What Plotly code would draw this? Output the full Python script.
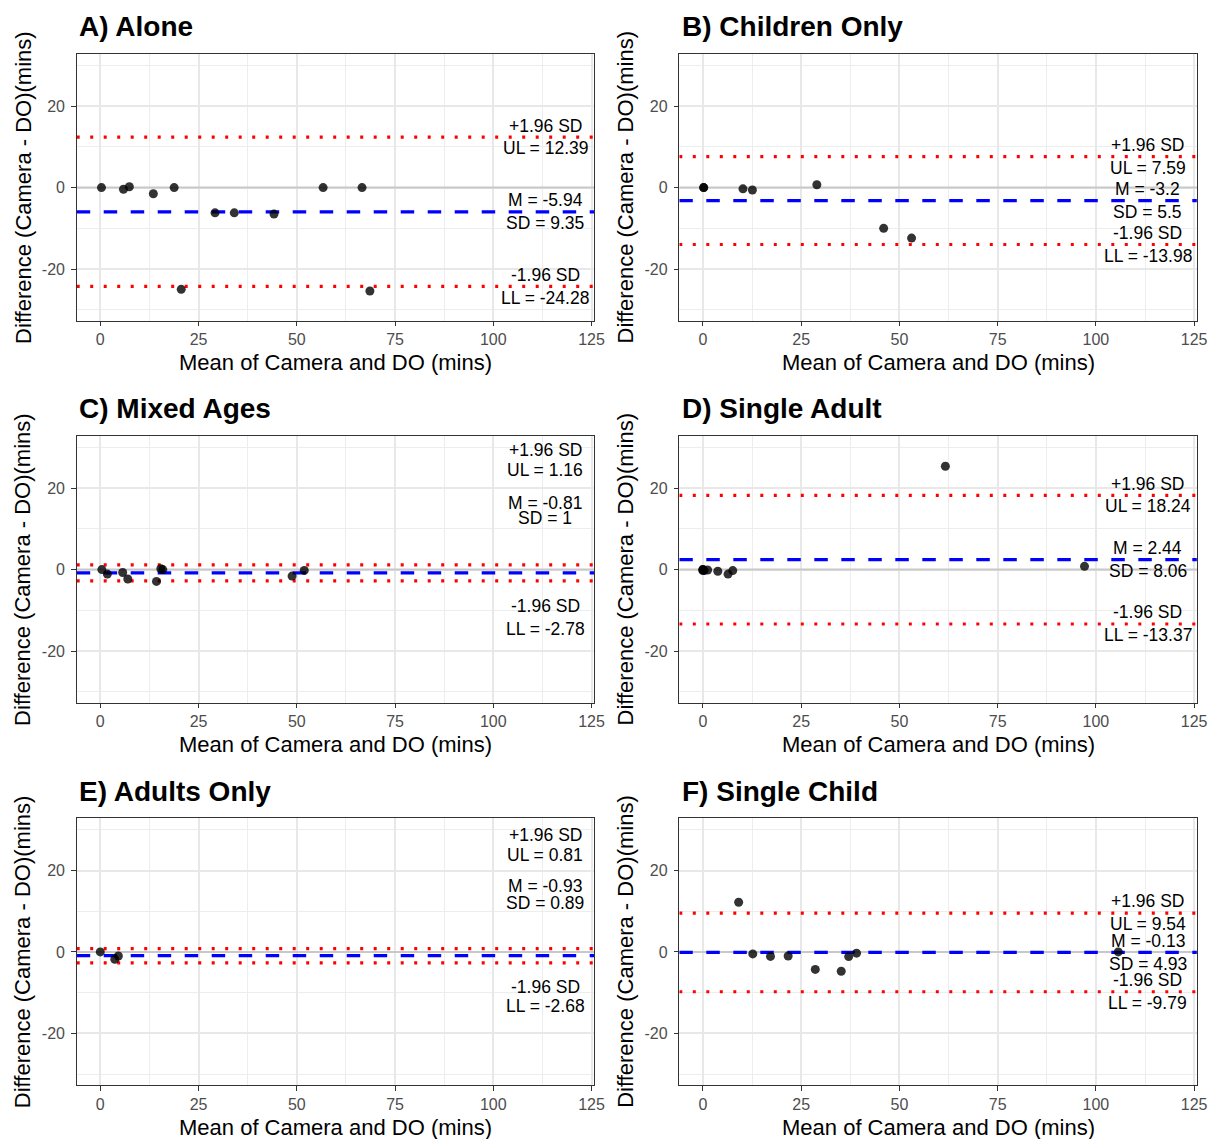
import plotly.graph_objects as go

# ---------------- data ----------------
PANEL_TITLES = ["A) Alone", "B) Children Only", "C) Mixed Ages",
                "D) Single Adult", "E) Adults Only", "F) Single Child"]

A_MEAN = [0.3, 5.9, 7.4, 13.5, 18.8, 20.6, 29.2, 34.1, 44.2, 56.7, 66.6, 68.6]
A_DIFF = [0.0, -0.4, 0.2, -1.5, 0.0, -25.0, -6.2, -6.2, -6.5, 0.0, 0.0, -25.4]
B_MEAN = [0.2, 0.2, 10.2, 12.6, 29.0, 46.0, 53.1]
B_DIFF = [0.0, 0.0, -0.3, -0.6, 0.7, -10.0, -12.4]
C_MEAN = [0.4, 1.8, 5.7, 7.0, 14.3, 15.4, 15.9, 48.8, 51.9]
C_DIFF = [0.0, -1.1, -0.7, -2.3, -2.9, 0.2, 0.0, -1.6, -0.2]
D_MEAN = [0.0, 0.0, 0.0, 0.3, 1.2, 3.8, 6.4, 7.6, 61.7, 97.1]
D_DIFF = [0.0, 0.0, -0.25, -0.25, -0.1, -0.4, -1.1, -0.25, 25.4, 0.8]
E_MEAN = [0.0, 3.7, 4.6]
E_DIFF = [0.0, -1.8, -1.0]
F_MEAN = [9.1, 12.7, 17.2, 21.7, 28.6, 35.2, 37.1, 39.1, 105.7]
F_DIFF = [12.2, -0.5, -1.1, -1.0, -4.3, -4.75, -1.15, -0.3, 0.0]

MEANS = [A_MEAN, B_MEAN, C_MEAN, D_MEAN, E_MEAN, F_MEAN]
DIFFS = [A_DIFF, B_DIFF, C_DIFF, D_DIFF, E_DIFF, F_DIFF]

MEAN_DIFF = [-5.94, -3.2, -0.81, 2.44, -0.93, -0.13]
SD_DIFF = [9.35, 5.5, 1, 8.06, 0.89, 4.93]
UPPER_LIM = [12.39, 7.59, 1.16, 18.24, 0.81, 9.54]
LOWER_LIM = [-24.28, -13.98, -2.78, -13.37, -2.68, -9.79]

X_TICKS = [0, 25, 50, 75, 100, 125]
X_TICK_TEXT = ["0", "25", "50", "75", "100", "125"]
X_MINOR = [12.5, 37.5, 62.5, 87.5, 112.5]
Y_TICKS = [-20, 0, 20]
Y_TICK_TEXT = ["-20", "0", "20"]
Y_MINOR = [-30, -10, 10, 30]

X_TITLE = "Mean of Camera and DO (mins)"
Y_TITLE = "Difference (Camera - DO)(mins)"

# ---------------- layout constants ----------------
W, H = 1209, 1139
X_RANGE = [-6.0, 125.7]
Y_RANGE = [-32.7, 32.9]
COL_PX = [(76.7, 594.3), (679.3, 1196.9)]
ROW_PX = [(53.7, 320.7), (435.7, 702.7), (818.0, 1085.0)]
LABEL_X = 113.2
# label y-positions for panels where labels are offset from their lines
LABEL_OVERRIDE = {2: [29.3, 24.4, 16.3, 12.7, -8.9, -14.7],
                  4: [28.8, 23.9, 16.2, 11.9, -8.5, -13.4]}
FONT = "Liberation Sans, Arial, sans-serif"

fig = go.Figure()
annotations = []

for i in range(6):
    r, c = divmod(i, 2)
    sfx = "" if i == 0 else str(i + 1)
    x0, x1 = COL_PX[c]
    top, bot = ROW_PX[r]
    xd = [x0 / W, x1 / W]
    yd = [1 - bot / H, 1 - top / H]
    axis_common = dict(
        showgrid=True, gridcolor="#E8E8E8", gridwidth=1.5,
        ticks="outside", ticklen=4.5, tickwidth=1.4, tickcolor="#333333",
        showline=True, linecolor="#333333", linewidth=1.1, mirror=True,
        tickfont=dict(family=FONT, size=16, color="#4D4D4D"),
        fixedrange=True, automargin=False,
    )
    fig.update_layout({
        f"xaxis{sfx}": dict(domain=xd, anchor=f"y{sfx}", range=X_RANGE,
                            tickmode="array", tickvals=X_TICKS, ticktext=X_TICK_TEXT,
                            zeroline=False, ticklabelstandoff=0,
                            minor=dict(tickvals=X_MINOR, showgrid=True,
                                       gridcolor="#EDEDED", gridwidth=1, ticks=""),
                            **axis_common),
        f"yaxis{sfx}": dict(domain=yd, anchor=f"x{sfx}", range=Y_RANGE,
                            tickmode="array", tickvals=Y_TICKS, ticktext=Y_TICK_TEXT,
                            zeroline=False, ticklabelstandoff=3,
                            minor=dict(tickvals=Y_MINOR, showgrid=True,
                                       gridcolor="#EDEDED", gridwidth=1, ticks=""),
                            **axis_common),
    })

    xa, ya = f"x{sfx}", f"y{sfx}"
    # reference line at zero
    fig.add_trace(go.Scatter(x=X_RANGE, y=[0, 0], mode="lines", xaxis=xa, yaxis=ya,
                             line=dict(color="#C8C8C8", width=2),
                             showlegend=False, hoverinfo="skip"))
    for val, col, dash in [(UPPER_LIM[i], "#FF0000", "3px,10.5px"),
                           (LOWER_LIM[i], "#FF0000", "3px,10.5px"),
                           (MEAN_DIFF[i], "#0000FF", "13.5px,13.5px")]:
        fig.add_trace(go.Scatter(x=X_RANGE, y=[val, val], mode="lines",
                                 xaxis=xa, yaxis=ya,
                                 line=dict(color=col, width=3.2, dash=dash),
                                 showlegend=False, hoverinfo="skip"))

    fig.add_trace(go.Scatter(
        x=MEANS[i], y=DIFFS[i], mode="markers", xaxis=xa, yaxis=ya,
        marker=dict(size=9, color="black", opacity=0.8, line=dict(width=0)),
        showlegend=False, hoverinfo="x+y"))

    texts = ["+1.96 SD", f"UL = {UPPER_LIM[i]:g}", f"M = {MEAN_DIFF[i]:g}",
             f"SD = {SD_DIFF[i]:g}", "-1.96 SD", f"LL = {LOWER_LIM[i]:g}"]
    if i in LABEL_OVERRIDE:
        ys = LABEL_OVERRIDE[i]
    else:
        ys = [UPPER_LIM[i] + 2.85, UPPER_LIM[i] - 2.7, MEAN_DIFF[i] + 2.9,
              MEAN_DIFF[i] - 2.8, LOWER_LIM[i] + 2.85, LOWER_LIM[i] - 2.75]
    for t, yv in zip(texts, ys):
        annotations.append(dict(text=t, x=LABEL_X, y=yv, xref=xa, yref=ya,
                                xanchor="center", yanchor="middle", showarrow=False,
                                font=dict(family=FONT, size=17.5, color="black")))

    # panel title
    annotations.append(dict(text=f"<b>{PANEL_TITLES[i]}</b>", x=(x0 + 0.5) / W,
                            y=1 - (top - 27) / H, xref="paper", yref="paper",
                            xanchor="left", yanchor="middle", showarrow=False,
                            font=dict(family=FONT, size=28, color="black")))
    # x-axis title
    annotations.append(dict(text=X_TITLE, x=(x0 + x1) / 2 / W, y=1 - (bot + 42) / H,
                            xref="paper", yref="paper", xanchor="center",
                            yanchor="middle", showarrow=False,
                            font=dict(family=FONT, size=22, color="black")))
    # y-axis title
    annotations.append(dict(text=Y_TITLE, x=(x0 - 54) / W, y=1 - (top + bot) / 2 / H,
                            xref="paper", yref="paper", xanchor="center",
                            yanchor="middle", textangle=-90, showarrow=False,
                            font=dict(family=FONT, size=22, color="black")))

fig.update_layout(
    template="none",
    width=W, height=H, margin=dict(l=0, r=0, t=0, b=0, autoexpand=False),
    paper_bgcolor="white", plot_bgcolor="white",
    showlegend=False, annotations=annotations,
    font=dict(family=FONT),
)

fig.write_html("out.html", config={"displayModeBar": False})
